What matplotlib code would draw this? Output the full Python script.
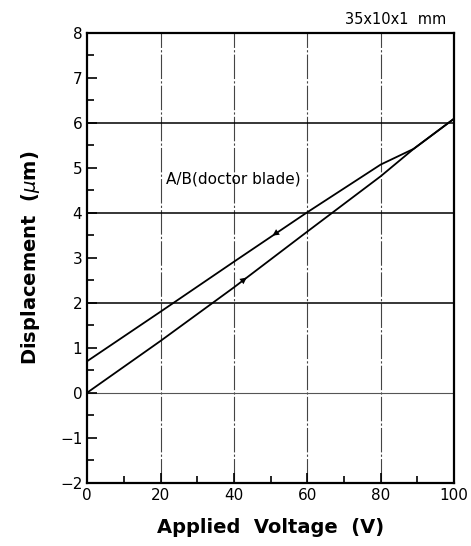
#!/usr/bin/env python3
"""Displacement vs applied voltage for A/B (doctor blade) sample, 35x10x1 mm."""
import matplotlib
matplotlib.use("Agg")
import matplotlib.pyplot as plt
from matplotlib.ticker import MultipleLocator

plt.rcParams["font.family"] = ["DejaVu Sans"]
plt.rcParams["axes.unicode_minus"] = True

# increasing voltage branch (lower curve)
volt_up = [0, 20, 40, 60, 80, 89, 100]
disp_up = [0.0, 1.15, 2.34, 3.58, 4.81, 5.42, 6.09]
# decreasing voltage branch (upper curve)
volt_down = [100, 89, 80, 60, 40, 20, 0]
disp_down = [6.09, 5.42, 5.07, 4.01, 2.91, 1.80, 0.70]

arrow_up = (43.5, 2.56)
arrow_down = (50.5, 3.49)

xgrid = [20, 40, 60, 80]
ygrid = [2, 4, 6]

fig = plt.figure(figsize=(4.71, 5.46), dpi=100)
ax = fig.add_axes([0.185, 0.116, 0.779, 0.824])

for xv in xgrid:
    ax.axvline(xv, color="#444444", lw=0.8, ls=(0, (22, 2, 2, 2)), zorder=1)
for yv in ygrid:
    ax.axhline(yv, color="black", lw=1.1, zorder=1)
ax.axhline(0, color="#555555", lw=0.8, zorder=1)

ax.plot(volt_up, disp_up, color="black", lw=1.3, zorder=3)
ax.plot(volt_down, disp_down, color="black", lw=1.3, zorder=3)

# small direction arrows on each branch
ax.annotate("", xy=arrow_up, xytext=(arrow_up[0] - 1.2, arrow_up[1] - 0.075),
            arrowprops=dict(arrowstyle="-|>", color="black", lw=0, mutation_scale=12))
ax.annotate("", xy=arrow_down, xytext=(arrow_down[0] + 1.2, arrow_down[1] + 0.066),
            arrowprops=dict(arrowstyle="-|>", color="black", lw=0, mutation_scale=12))

ax.text(21.5, 4.75, "A/B(doctor blade)", fontsize=11, ha="left", va="center")
ax.text(0.98, 1.012, "35x10x1  mm", transform=ax.transAxes, fontsize=10.5,
        ha="right", va="bottom")

ax.set_xlim(0, 100)
ax.set_ylim(-2, 8)
ax.xaxis.set_major_locator(MultipleLocator(20))
ax.xaxis.set_minor_locator(MultipleLocator(10))
ax.yaxis.set_major_locator(MultipleLocator(1))
ax.yaxis.set_minor_locator(MultipleLocator(0.5))
ax.tick_params(which="both", direction="in", top=False, right=False, labelsize=11, width=1.2)
ax.tick_params(which="major", length=7)
ax.tick_params(which="minor", length=5)
for sp in ax.spines.values():
    sp.set_linewidth(1.6)

ax.set_xlabel("Applied  Voltage  (V)", fontsize=14, fontweight="bold", labelpad=11)
ax.set_ylabel(r"Displacement  ($\mu$m)", fontsize=14, fontweight="bold", labelpad=13)

fig.savefig("out.png", dpi=100)
plt.close(fig)
